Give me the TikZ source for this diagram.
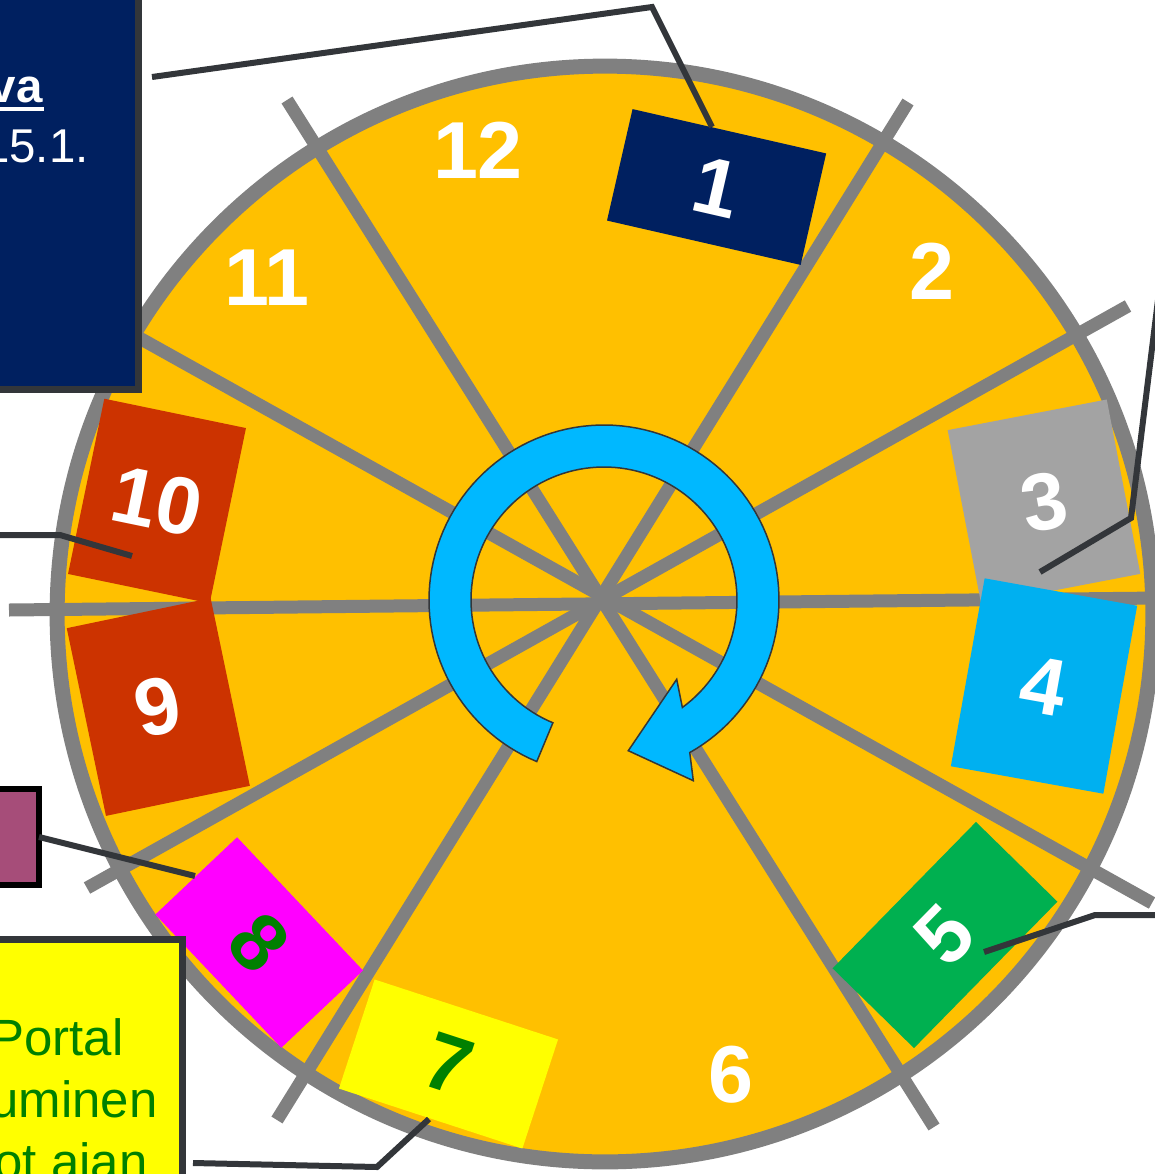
\documentclass[tikz,border=0pt]{standalone}
\usepackage{fontspec}
\setmainfont{Liberation Sans}
\usetikzlibrary{calc}
\definecolor{wheel}{HTML}{FFC000}
\definecolor{spoke}{HTML}{808080}
\definecolor{navy}{HTML}{002060}
\definecolor{redbox}{HTML}{CC3300}
\definecolor{graybox}{HTML}{A3A3A3}
\definecolor{bluebox}{HTML}{00B0F0}
\definecolor{greenbox}{HTML}{00B050}
\definecolor{magbox}{HTML}{FF00FF}
\definecolor{yelbox}{HTML}{FFFF00}
\definecolor{arrowblue}{HTML}{00B8FF}
\definecolor{dkline}{HTML}{33363A}
\definecolor{txtgreen}{HTML}{008000}
\definecolor{mauve}{HTML}{A64D79}
\begin{document}
\begin{tikzpicture}[x=0.02cm,y=-0.02cm,
  num/.style={inner sep=0pt, font=\fontsize{46}{50}\selectfont\bfseries, text=white},
  leader/.style={draw=dkline, line width=0.12cm, line join=miter},
  spk/.style={draw=spoke, line width=0.26cm},
  side/.style={inner sep=0pt, outer sep=0pt, anchor=north west},
  yeltext/.style={inner sep=0pt, anchor=base east, text=txtgreen, font=\fontsize{29}{33}\selectfont}]
\useasboundingbox (0,0) rectangle (1155,1174);
\clip (0,0) rectangle (1155,1174);
% wheel
\fill[wheel] (605,614) circle[radius=10.96cm];
\draw[spk] (287,100) -- (934,1127);
\draw[spk] (908,102) -- (277,1120);
\draw[spk] (1128,306) -- (87,888);
\draw[spk] (100,316) -- (1152,903);
\draw[spk] (9,610) -- (1160,598);
\draw[draw=spoke, line width=0.3cm] (605,614) circle[radius=10.96cm];
% sector numbers
\node[num] (n12) at (478,150) {12};
\node[num] (n11) at (267,278) {11};
\node[num] (n2) at (932,271) {2};
\node[num] (n6) at (731,1075) {6};
% coloured segments
\node[num, fill=navy, rotate=-12.9, minimum width=3.974cm, minimum height=2.288cm] (b1) at (716.6,187) {1};
\node[num, fill=graybox, rotate=10.9, minimum width=3.24cm, minimum height=3.552cm] (b3) at (1044,502) {3};
\node[num, fill=bluebox, rotate=-10.2, minimum width=3.10cm, minimum height=3.82cm] (b4) at (1044,686) {4};
\node[num, fill=greenbox, rotate=45.6, minimum width=4.10cm, minimum height=2.28cm] (b5) at (945,935) {5};
\node[num, fill=yelbox, text=txtgreen, rotate=-18.1, minimum width=3.86cm, minimum height=2.296cm] (b7) at (448.5,1064) {7};
\node[num, fill=magbox, text=txtgreen, rotate=-46.6, minimum width=3.668cm, minimum height=2.25cm] (b8) at (259.2,942.5) {8};
\node[num, fill=redbox, rotate=11.8, minimum width=2.94cm, minimum height=3.836cm] (b9) at (158.3,707) {9};
\node[num, fill=redbox, rotate=-11.7, minimum width=2.894cm, minimum height=3.58cm] (b10) at (157,501) {10};
% circular arrow
\draw[fill=arrowblue, draw=dkline, line width=0.03cm, line join=miter]
  plot[domain=112.6:420.65, samples=120] ({604+175*cos(\x)},{600+175*sin(\x)})
  -- (693.3,780.7) -- (628.3,750.7) -- (676.7,679.3)
  -- plot[domain=413.9:112.6, samples=120] ({604+133*cos(\x)},{600+133*sin(\x)})
  -- cycle;
% side boxes
\node[side, fill=navy, draw=dkline, line width=0.14cm, minimum width=2.98cm, minimum height=8cm] (nav) at (-10,-10) {};
\node[side, fill=mauve, draw=black, line width=0.12cm, minimum width=0.98cm, minimum height=1.92cm] (pur) at (-10,789) {};
\node[side, fill=yelbox, draw=dkline, line width=0.14cm, minimum width=3.86cm, minimum height=5.22cm] (yel) at (-10,939) {};
% texts in side boxes
\node[inner sep=0pt, anchor=base east, text=white, font=\fontsize{27}{30}\selectfont\bfseries] (tva) at (43,102) {va};
\draw[white, line width=0.085cm] (-5,109) -- (43.5,109);
\node[inner sep=0pt, anchor=base east, text=white, font=\fontsize{27}{30}\selectfont] (tdate) at (89,162) {15.1.};
\node[yeltext] (y1) at (124,1055) {Portal};
\node[yeltext] (y2) at (158,1117) {uminen};
\node[yeltext] (y3) at (148,1179) {ot ajan};
% leader lines
\coordinate (c1a) at ($(b1.north west)!0.41!(b1.north east)$);
\coordinate (c1b) at (652,7);
\coordinate (c1c) at (152,77);
\draw[leader] (c1a) -- (c1b) -- (c1c);
\coordinate (c3a) at (1040,572);
\coordinate (c3b) at (1131,518);
\coordinate (c3c) at (1158,300);
\draw[leader] (c3a) -- (c3b) -- (c3c);
\coordinate (c5a) at (984,952);
\coordinate (c5b) at (1095,915);
\coordinate (c5c) at (1160,915);
\draw[leader] (c5a) -- (c5b) -- (c5c);
\coordinate (c7a) at (429,1119);
\coordinate (c7b) at (377,1167);
\coordinate (c7c) at (193,1163);
\draw[leader] (c7a) -- (c7b) -- (c7c);
\coordinate (c8a) at (195,876);
\draw[leader] (pur.east |- 0,837) -- (c8a);
\coordinate (c10a) at (132,556);
\coordinate (c10b) at (60,535);
\coordinate (c10c) at (-5,535);
\draw[leader] (c10a) -- (c10b) -- (c10c);
\end{tikzpicture}
\end{document}
